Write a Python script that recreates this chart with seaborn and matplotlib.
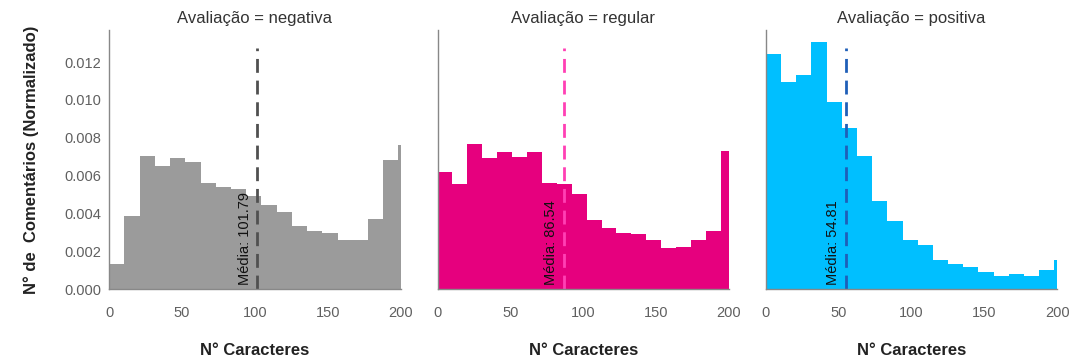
import numpy as np
import pandas as pd
import matplotlib
matplotlib.use("Agg")
import matplotlib.pyplot as plt
import seaborn as sns

# Histograma normalizado (densidade) do nº de caracteres por avaliação
avaliacoes = ["negativa", "regular", "positiva"]

densidade_negativa = [0.00132, 0.00384, 0.00704, 0.00651, 0.00694, 0.00671, 0.00562,
                      0.00541, 0.00530, 0.00493, 0.00442, 0.00410, 0.00335, 0.00305,
                      0.00296, 0.00257, 0.00262, 0.00371, 0.00683, 0.00760]
densidade_regular = [0.00621, 0.00558, 0.00768, 0.00694, 0.00725, 0.00699, 0.00725,
                     0.00563, 0.00556, 0.00504, 0.00363, 0.00322, 0.00299, 0.00292,
                     0.00261, 0.00215, 0.00225, 0.00261, 0.00308, 0.00732]
densidade_positiva = [0.01245, 0.01097, 0.01130, 0.01305, 0.00988, 0.00850, 0.00701,
                      0.00467, 0.00361, 0.00261, 0.00231, 0.00155, 0.00130, 0.00116,
                      0.00092, 0.00070, 0.00081, 0.00070, 0.00099, 0.00155]

largura_bin = {"negativa": 10.45, "regular": 10.24, "positiva": 10.43}
medias = {"negativa": 101.79, "regular": 86.54, "positiva": 54.81}

densidades = {"negativa": densidade_negativa,
              "regular": densidade_regular,
              "positiva": densidade_positiva}

cores_barra = {"negativa": "#9b9b9b", "regular": "#e6007e", "positiva": "#00bfff"}
cores_media = {"negativa": "#505050", "regular": "#ff40b4", "positiva": "#1f5fb8"}

y_ticks = [0.000, 0.002, 0.004, 0.006, 0.008, 0.010, 0.012]
x_ticks = [0, 50, 100, 150, 200]

sns.set_theme(style="white")
plt.rcParams["font.family"] = ["Liberation Sans", "DejaVu Sans"]

fig, axes = plt.subplots(1, 3, figsize=(10.71, 3.6), dpi=100, sharey=True)
fig.subplots_adjust(left=0.102, right=0.987, top=0.917, bottom=0.197, wspace=0.127)

for ax, av in zip(axes, avaliacoes):
    w = largura_bin[av]
    valores = densidades[av]
    bordas = np.arange(len(valores) + 1) * w
    centros = (bordas[:-1] + bordas[1:]) / 2
    df = pd.DataFrame({"caracteres": centros, "densidade": valores})
    sns.histplot(data=df, x="caracteres", weights="densidade", bins=list(bordas),
                 stat="count", color=cores_barra[av], alpha=1, linewidth=0, ax=ax)

    media = medias[av]
    ax.axvline(media, ymin=0, ymax=0.93, color=cores_media[av], lw=2,
               linestyle=(0, (5, 2.8)))
    ax.annotate(f"Média: {media:.2f}", xy=(media, 0), xycoords="data",
                xytext=(-4, 3), textcoords="offset points", rotation=90,
                ha="right", va="bottom", fontsize=10.5, color="#111111")

    ax.set_xlim(0, 200)
    ax.set_ylim(0, 0.0137)
    ax.set_xticks(x_ticks)
    ax.set_yticks(y_ticks)
    ax.set_yticklabels([f"{v:.3f}" for v in y_ticks])
    ax.tick_params(axis="both", length=0, labelsize=10.5, labelcolor="#606060")
    ax.tick_params(axis="x", pad=12)
    ax.tick_params(axis="y", pad=6)
    ax.set_title(f"Avaliação = {av}", fontsize=12, color="#333333", pad=5)
    ax.set_xlabel("N° Caracteres", fontsize=12, fontweight="bold", labelpad=17,
                  color="#222222")
    ax.set_ylabel("")
    for side in ["top", "right"]:
        ax.spines[side].set_visible(False)
    for side in ["left", "bottom"]:
        ax.spines[side].set_color("#888888")
        ax.spines[side].set_linewidth(1.0)

axes[0].set_ylabel("N° de  Comentários (Normalizado)", fontsize=12,
                   fontweight="bold", color="#222222", labelpad=18)

fig.savefig("out.png", dpi=100)
